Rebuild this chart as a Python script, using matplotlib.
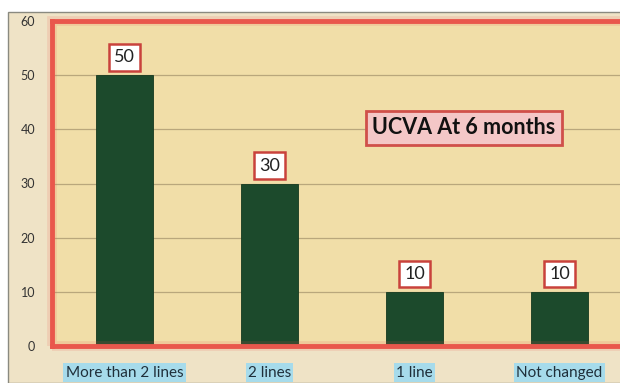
import matplotlib.pyplot as plt
from matplotlib.patches import Rectangle
import numpy as np

categories = ["More than 2 lines", "2 lines", "1 line", "Not changed"]
values = [50, 30, 10, 10]
yticks = [0, 10, 20, 30, 40, 50, 60]
title = "UCVA At 6 months"

plt.rcParams["font.family"] = ["Lato", "DejaVu Sans"]

paper = "#efe3c6"
plot_bg = "#f1dea8"
red = "#e9574c"
green = "#1c4a2c"

fig = plt.figure(figsize=(6.2, 3.83), dpi=100)
fig.patch.set_facecolor("white")

# parchment slide background with a thin grey frame
fig.patches.append(Rectangle((8 / 620, 0), 1.0, 1 - 12 / 383, transform=fig.transFigure,
                             facecolor=paper, edgecolor="#8a8a80", linewidth=1.0, zorder=-5))

# axes run off the right edge of the figure
ax = fig.add_axes([52 / 620, 1 - 346 / 383, 580 / 620, 325 / 383])
ax.set_facecolor(plot_bg)

x = np.arange(len(categories))
ax.bar(x, values, width=0.395, color=green, edgecolor="#14391f", linewidth=0.6, zorder=3)

ax.set_xlim(-0.5, len(categories) - 0.5)
ax.set_ylim(0, 60)
ax.set_yticks(yticks)
ax.set_yticklabels([str(t) for t in yticks], fontsize=9, color="#333333")
ax.set_xticks(x)
ax.set_xticklabels([])
ax.tick_params(axis="both", length=0, pad=12)

ax.yaxis.grid(True, color="#b9a77c", linewidth=0.9, zorder=1)
ax.set_axisbelow(True)

for s in ax.spines.values():
    s.set_color(red)
    s.set_linewidth(3.5)
    s.set_zorder(5)

# soft glow around the red frame
glow = Rectangle((0, 0), 1, 1, transform=ax.transAxes, fill=False,
                 edgecolor=red, linewidth=7, alpha=0.15, clip_on=False, zorder=4)
ax.add_patch(glow)

# value boxes above bars
for xi, v in zip(x, values):
    ax.text(xi, v + 3.3, str(v), ha="center", va="center", fontsize=13, color="#222222",
            bbox=dict(boxstyle="square,pad=0.3", facecolor="white", edgecolor="#c9423c", linewidth=1.8),
            zorder=6)

# category labels on light blue
for xi, c in zip(x, categories):
    ax.text(xi, -4.9, c, ha="center", va="center", fontsize=11, color="#1f2f3a",
            bbox=dict(boxstyle="square,pad=0.15", facecolor="#a6dbeb", edgecolor="none"),
            clip_on=False, zorder=6)

ax.text(2.34, 40.3, title, ha="center", va="center", fontsize=15.5, fontweight="bold",
        color="#111111",
        bbox=dict(boxstyle="square,pad=0.3", facecolor="#f4c7c7", edgecolor="#d0504a", linewidth=2),
        zorder=6)

fig.savefig("out.png", dpi=100, facecolor=fig.get_facecolor())
